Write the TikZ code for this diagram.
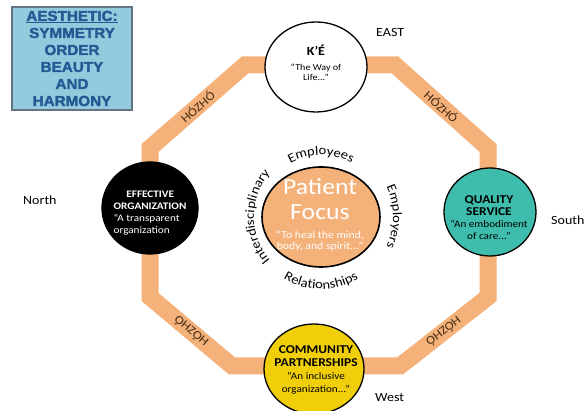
\documentclass[tikz,border=0pt]{standalone}
\usepackage{fontspec}
\setmainfont{Carlito}[FakeStretch=1.12]
\newfontfamily\aesfont{Liberation Sans}[FakeStretch=1.05, BoldFeatures={FakeBold=2}]
\usetikzlibrary{shapes.geometric,decorations.text}

\definecolor{bandorange}{RGB}{244,177,122}
\definecolor{qualteal}{RGB}{62,188,172}
\definecolor{commyellow}{RGB}{240,206,10}
\definecolor{aesblue}{RGB}{148,202,222}
\definecolor{aestext}{RGB}{34,90,148}
\definecolor{hozhobrown}{RGB}{70,45,20}

% heading inside a circle: size, words
\newcommand\vhead[2]{{\fontsize{#1}{#1}\selectfont\bfseries #2}}

\tikzset{
  value circle/.style={ellipse, draw=black, line width=1.3pt, inner sep=0pt},
  value text/.style={align=center, inner sep=0pt},
  band/.style={draw=bandorange, line width=17pt, line join=miter},
  hozho/.style={midway, sloped, inner sep=0pt, text=hozhobrown,
    font=\fontsize{12}{12}\selectfont},
  compass/.style={anchor=west, inner sep=0pt, font=\fontsize{12.5}{13}\selectfont},
  ring text/.style={decorate, decoration={text along path, text align=center,
    text={|\fontsize{13}{13}\selectfont|#1}}},
  aesthetic/.style={draw=gray!70!aestext, line width=1.2pt, fill=aesblue,
    minimum width=120pt, minimum height=103pt, inner sep=0pt, align=center,
    text=aestext, font=\aesfont\bfseries\fontsize{14.5}{17}\selectfont}
}

\begin{document}
\begin{tikzpicture}[x=1pt, y=1pt]
\useasboundingbox (0,0) rectangle (587,411);

% corners of the band
\coordinate (oct-nw) at (245,346);
\coordinate (oct-ne) at (395,346);
\coordinate (oct-en) at (488,263);
\coordinate (oct-es) at (488,114);
\coordinate (oct-se) at (400,45);
\coordinate (oct-sw) at (232,45);
\coordinate (oct-ws) at (150,114);
\coordinate (oct-wn) at (150,263);

\draw[band] (oct-wn) -- (oct-nw) -- (oct-ne) -- (oct-en) -- (oct-es)
  -- (oct-se) -- (oct-sw) -- (oct-ws) -- cycle;

% band labels
\path (oct-wn) -- node[hozho] (hozho-nw) {HÓZHÓ} (oct-nw);
\path (oct-ne) -- node[hozho] (hozho-ne) {HÓZHÓ} (oct-en);
\path (oct-es) -- node[hozho, allow upside down] (hozho-se) {HÓZHÓ} (oct-se);
\path (oct-sw) -- node[hozho, allow upside down] (hozho-sw) {HÓZHÓ} (oct-ws);

% the five values
\node[value circle, fill=white, minimum width=102pt, minimum height=90pt] (ke) at (316,344) {};
\node[value circle, fill=black, minimum width=96pt, minimum height=92pt] (eo) at (150,203) {};
\node[value circle, fill=qualteal, minimum width=92pt, minimum height=88pt] (qs) at (490,199) {};
\node[value circle, fill=commyellow, minimum width=100pt, minimum height=90pt] (cp) at (314,42) {};
\node[value circle, fill=bandorange, line width=1.6pt, minimum width=118pt, minimum height=100pt] (pf) at (321,194) {};

\node[value text, font=\fontsize{9}{10}\selectfont] (ke-text) at (316,348)
  {\vhead{12.5}{K’É}\\[5pt] “The Way of\\ Life...”};
\node[value text, align=left, text=white, font=\fontsize{10}{12}\selectfont] (eo-text) at (150,198)
  {\vhead{10}{\hspace*{1.28em}EFFECTIVE}\\ \vhead{10}{ORGANIZATION}\\
   “A transparent\\ organization};
\node[value text, font=\fontsize{10}{12}\selectfont] (qs-text) at (489,193)
  {\vhead{12}{QUALITY}\\ \vhead{12}{SERVICE}\\ “An embodiment\\ of care...”};
\node[value text, font=\fontsize{10}{13}\selectfont] (cp-text) at (316,41)
  {\vhead{12}{COMMUNITY}\\ \vhead{12}{PARTNERSHIPS}\\ “An inclusive\\ organization...”};
\node[value text, text=white, font=\fontsize{10.5}{11.5}\selectfont] (pf-text) at (320,196)
  {{\fontsize{23}{23}\selectfont Patient}\\[9pt] {\fontsize{23}{23}\selectfont Focus}\\[7.5pt]
   “To heal the mind,\\ body, and spirit...”};

% words round the patient
\path[ring text=Employees] (pf.center) ++(150:62) arc[start angle=150, end angle=30, radius=62];
\path[ring text=Employers] (pf.center) ++(50:72) arc[start angle=50, end angle=-50, radius=72];
\path[ring text=Interdisciplinary] (pf.center) ++(235:67) arc[start angle=235, end angle=125, radius=67];
\path[ring text=Relationships] (pf.center) ++(230:72) arc[start angle=230, end angle=310, radius=72];

% directions
\node[compass] (east) at (376,379) {EAST};
\node[compass] (north) at (23,211) {North};
\node[compass] (south) at (551,191) {South};
\node[compass] (west) at (375,13) {West};

% aesthetic box
\node[aesthetic] (aes) at (72,352.5)
  {\underline{AESTHETIC:}\\ SYMMETRY\\ ORDER\\ BEAUTY\\ AND\\ HARMONY};
\end{tikzpicture}
\end{document}
